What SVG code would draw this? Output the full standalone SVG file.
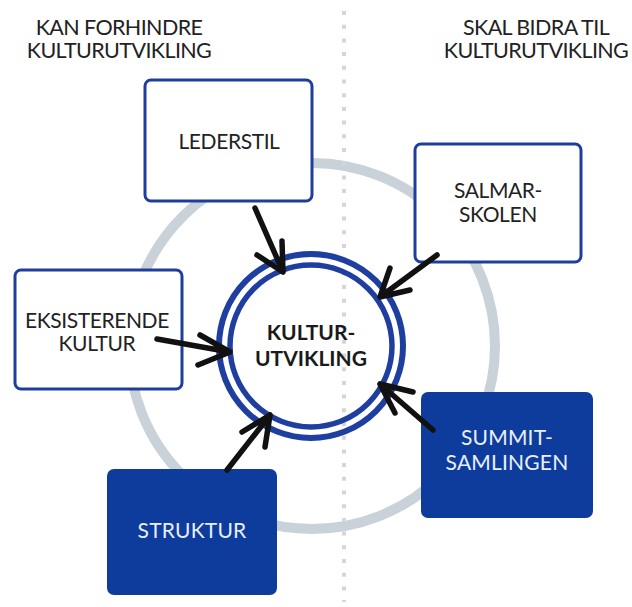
<svg xmlns="http://www.w3.org/2000/svg" width="632" height="607" viewBox="0 0 632 607">
<style>
text{font-family:Lato,"Open Sans","Liberation Sans",sans-serif;text-anchor:middle}
.title{font-size:21.5px;fill:#222;letter-spacing:-0.6px}
.lbl{font-size:21px;fill:#222;letter-spacing:-0.4px}
.lblw{font-size:21px;fill:#e8f0fa;letter-spacing:0.2px}
.center{font-size:21px;font-weight:bold;fill:#1a1a1a}
.box{fill:#fff;stroke:#1f3e9c;stroke-width:3}
.boxd{fill:#0e3c9d;stroke:none}
.arr{fill:none;stroke:#111;stroke-width:5.5;stroke-linecap:round;stroke-linejoin:round}
</style>
<rect width="632" height="607" fill="#fff"/>
<g id="background">
<circle cx="312" cy="346" r="183" fill="none" stroke="#c9d1d9" stroke-width="10"/>
<line x1="344" y1="11" x2="344" y2="602" stroke="#d6d6d6" stroke-width="4" stroke-dasharray="4 9.7"/>
</g>
<g id="titles">
<text class="title" x="119" y="34.5">KAN FORHINDRE</text>
<text class="title" x="119" y="58">KULTURUTVIKLING</text>
<text class="title" x="536" y="34.5">SKAL BIDRA TIL</text>
<text class="title" x="536" y="58">KULTURUTVIKLING</text>
</g>
<g id="kulturutvikling">
<circle cx="311" cy="346" r="92" fill="none" stroke="#1f3fa0" stroke-width="6"/>
<circle cx="311" cy="346" r="81" fill="none" stroke="#1f3fa0" stroke-width="5.5"/>
<text class="center" x="311" y="340">KULTUR-</text>
<text class="center" x="311" y="366">UTVIKLING</text>
</g>
<g id="lederstil">
<rect class="box" x="145" y="80" width="167" height="121" rx="6"/>
<text class="lbl" x="229" y="149">LEDERSTIL</text>
</g>
<g id="salmarskolen">
<rect class="box" x="415" y="144" width="166" height="118" rx="6"/>
<text class="lbl" x="498" y="198">SALMAR-</text>
<text class="lbl" x="498" y="222">SKOLEN</text>
</g>
<g id="eksisterende-kultur">
<rect class="box" x="15" y="270" width="167" height="119" rx="6"/>
<text class="lbl" x="97" y="328">EKSISTERENDE</text>
<text class="lbl" x="97" y="351">KULTUR</text>
</g>
<g id="summit-samlingen">
<rect class="boxd" x="421" y="392" width="172" height="126" rx="7"/>
<text class="lblw" x="507" y="445">SUMMIT-</text>
<text class="lblw" x="507" y="470">SAMLINGEN</text>
</g>
<g id="struktur">
<rect class="boxd" x="107" y="469" width="170" height="126" rx="7"/>
<text class="lblw" x="192" y="538">STRUKTUR</text>
</g>
<g id="connectors">
<path class="arr" d="M255,208 L283,272 M257,255 L283,272 L282,241"/>
<path class="arr" d="M437,255 L380,297 M390,268 L380,297 L410,290"/>
<path class="arr" d="M157,339 L230,352 M200,335 L230,352 L198,365"/>
<path class="arr" d="M433,430 L380,384 M413,392 L380,384 L395,413"/>
<path class="arr" d="M227,470 L270,415 M242,432 L270,415 L265,447"/>
</g>
</svg>
